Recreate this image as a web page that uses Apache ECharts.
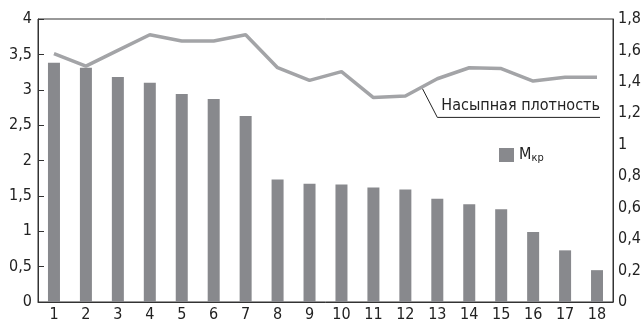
<!DOCTYPE html>
<html>
<head>
<meta charset="utf-8">
<script src="https://cdn.jsdelivr.net/npm/echarts@6/dist/echarts.min.js"></script>
<style>
  html, body { margin: 0; padding: 0; background: #fff; }
  #chart { width: 644px; height: 323px; }
</style>
</head>
<body>
<div id="chart"></div>
<script>
// samples 1..18
const categories = ['1', '2', '3', '4', '5', '6', '7', '8', '9', '10', '11', '12', '13', '14', '15', '16', '17', '18'];
// Mкр (left axis)
const mkrValues = [3.38, 3.31, 3.18, 3.10, 2.94, 2.87, 2.63, 1.73, 1.67, 1.66, 1.62, 1.59, 1.46, 1.38, 1.31, 0.99, 0.73, 0.45];
// Насыпная плотность (right axis)
const densityValues = [1.58, 1.50, 1.60, 1.70, 1.66, 1.66, 1.70, 1.49, 1.41, 1.465, 1.30, 1.31, 1.42, 1.49, 1.485, 1.405, 1.43, 1.43];
const densityLabel = 'Насыпная плотность';

const FONT = '"DejaVu Sans Condensed", "Liberation Sans", sans-serif';
const comma = v => String(v).replace('.', ',');

const chart = echarts.init(document.getElementById('chart'));

const option = {
    animation: false,
    textStyle: { fontFamily: FONT },
    grid: {
        left: 38, right: 31, top: 19, bottom: 21,
        show: true,
        borderColor: '#333',
        borderWidth: 1
    },
    legend: {
        data: ['Mкр'],
        icon: 'rect',
        left: 494,
        top: 142,
        itemWidth: 15,
        itemHeight: 14,
        itemGap: 4,
        formatter: () => '{m|M}{s|кр}',
        textStyle: {
            rich: {
                m: { fontFamily: FONT, fontSize: 16, color: '#222' },
                s: { fontFamily: FONT, fontSize: 11, color: '#222', verticalAlign: 'bottom', padding: [6, 0, 0, 0] }
            }
        }
    },
    xAxis: {
        type: 'category',
        data: categories,
        axisLine: { lineStyle: { color: '#333', width: 1 } },
        axisTick: { show: false },
        axisLabel: { color: '#222', fontSize: 16, margin: 5, fontFamily: FONT }
    },
    yAxis: [
        {
            type: 'value',
            min: 0, max: 4, interval: 0.5,
            axisLine: { show: true, lineStyle: { color: '#333' } },
            axisTick: { show: true, inside: true, length: 6, lineStyle: { color: '#333' } },
            splitLine: { show: false },
            axisLabel: { color: '#222', fontSize: 16, margin: 6, fontFamily: FONT, formatter: comma }
        },
        {
            type: 'value',
            min: 0, max: 1.8, interval: 0.2,
            axisLine: { show: true, lineStyle: { color: '#333' } },
            axisTick: { show: false },
            splitLine: { show: false },
            axisLabel: { color: '#222', fontSize: 16, margin: 5, fontFamily: FONT,
                formatter: v => comma(Math.round(v * 10) / 10) }
        }
    ],
    series: [
        {
            name: 'Mкр',
            type: 'bar',
            yAxisIndex: 0,
            data: mkrValues,
            barWidth: 12,
            itemStyle: { color: '#88898d' }
        },
        {
            name: densityLabel,
            type: 'line',
            yAxisIndex: 1,
            data: densityValues,
            symbol: 'none',
            lineStyle: { color: '#a3a4a7', width: 3.5 },
            z: 3
        }
    ]
};

chart.setOption(option);

// callout for the line, anchored between points 12 and 13
const p1 = chart.convertToPixel({ seriesIndex: 1 }, [11, densityValues[11]]);
const p2 = chart.convertToPixel({ seriesIndex: 1 }, [12, densityValues[12]]);
const ax = (p1[0] + p2[0]) / 2, ay = (p1[1] + p2[1]) / 2;
const gridRight = chart.convertToPixel({ xAxisIndex: 0 }, categories.length - 1) + 16;
chart.setOption({
    graphic: [
        {
            type: 'polyline',
            shape: { points: [[ax + 1, ay + 1], [ax + 16, ay + 30], [gridRight - 13, ay + 30]] },
            style: { stroke: '#222', lineWidth: 1, fill: null },
            silent: true
        },
        {
            type: 'text',
            left: ax + 20,
            top: ay + 10,
            style: { text: densityLabel, font: '16px ' + FONT, fill: '#222' },
            silent: true
        }
    ]
});
</script>
</body>
</html>
